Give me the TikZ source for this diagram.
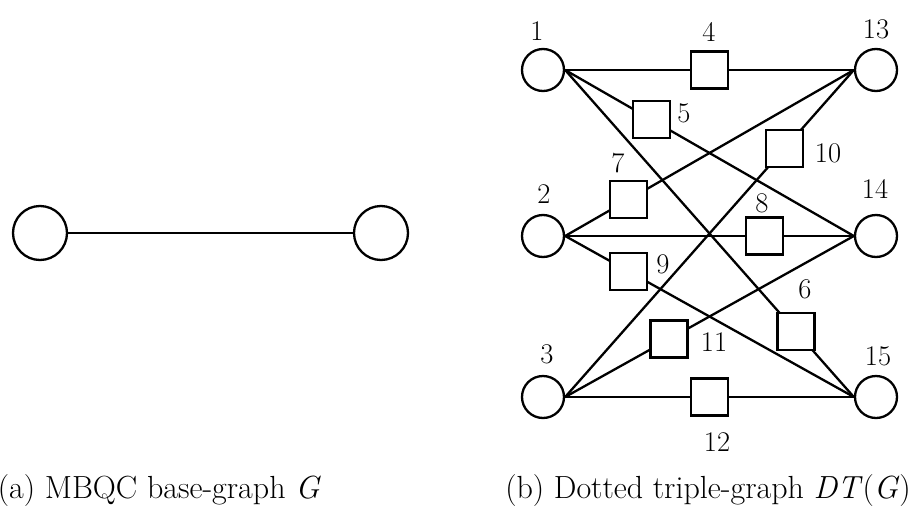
\documentclass[tikz,border=0pt]{standalone}
\usepackage{fontspec}
\begin{document}
\begin{tikzpicture}[x=1pt,y=-1pt,
  ln/.style={line width=2.3pt},
  bigc/.style={circle,draw,line width=2.3pt,minimum size=54pt,inner sep=0pt},
  smc/.style={circle,draw,line width=2.3pt,minimum size=42pt,inner sep=0pt},
  sqbox/.style={rectangle,draw,fill=white,line width=2.3pt,minimum size=37pt,inner sep=0pt},
  lab/.style={font=\fontsize{28.5}{34}\selectfont,inner sep=0pt},
  captext/.style={font=\fontsize{32}{38}\selectfont,inner sep=0pt}]
\useasboundingbox (0,0) rectangle (919,509);
% (a)
\node[bigc] (a1) at (40,233) {};
\node[bigc] (a2) at (381,233) {};
\draw[ln] (a1.east) -- (a2.west);
% (b)
\node[smc] (n1) at (543,70) {};
\node[smc] (n2) at (543,236) {};
\node[smc] (n3) at (543,397) {};
\node[smc] (n13) at (876,70) {};
\node[smc] (n14) at (876,236) {};
\node[smc] (n15) at (876,397) {};
\foreach \a/\b in {n1/n13,n1/n14,n1/n15,n2/n13,n2/n14,n2/n15,n3/n13,n3/n14,n3/n15}
  \draw[ln] (\a.east) -- (\b.west);
\foreach \a/\b/\p/\n in {n1/n13/0.5/4,n1/n14/0.3/5,n1/n15/0.8/6,n2/n13/0.22/7,n2/n14/0.69/8,n2/n15/0.22/9,n3/n13/0.76/10,n3/n14/0.36/11,n3/n15/0.5/12}
  \path (\a.east) -- node[sqbox,pos=\p] (s\n) {} (\b.west);
% labels
\node[lab] (l1) at (537,31) {1};
\node[lab] (l13) at (876,29) {13};
\node[lab] (l4) at (709,32) {4};
\node[lab] (l5) at (684,113) {5};
\node[lab] (l10) at (828,153) {10};
\node[lab] (l7) at (618,163) {7};
\node[lab] (l2) at (544,194) {2};
\node[lab] (l14) at (875,189) {14};
\node[lab] (l8) at (762,203) {8};
\node[lab] (l9) at (663,264) {9};
\node[lab] (l6) at (805,289) {6};
\node[lab] (l11) at (714,342) {11};
\node[lab] (l3) at (547,354) {3};
\node[lab] (l15) at (878,356) {15};
\node[lab] (l12) at (717,442) {12};
% captions
\node[captext,anchor=base east] (capa) at (321,498) {(a) MBQC base-graph \textit{G}};
\node[captext,anchor=base] (capb) at (708,498) {(b) Dotted triple-graph \textit{DT}(\textit{G})};
\end{tikzpicture}
\end{document}
